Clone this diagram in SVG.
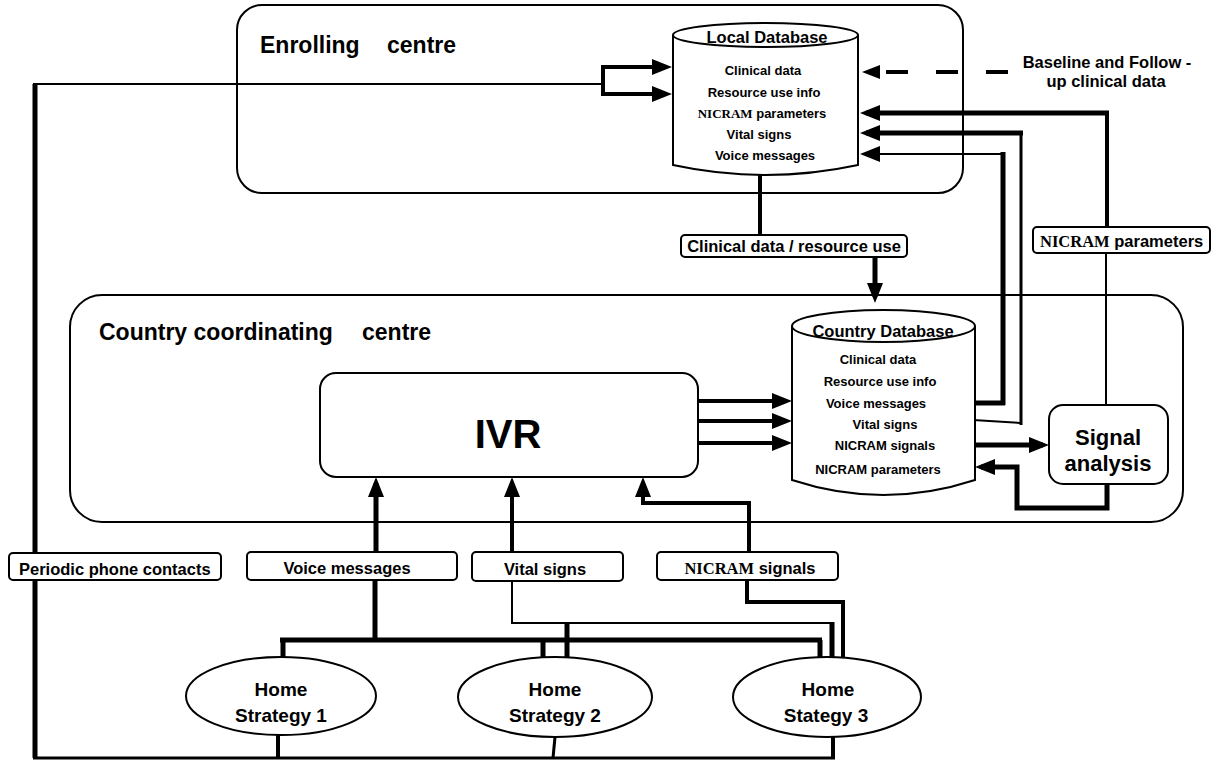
<svg xmlns="http://www.w3.org/2000/svg" width="1220" height="762" viewBox="0 0 1220 762">
<defs>
<style>
text{font-family:"Liberation Sans",Arial,sans-serif;font-weight:bold;fill:#000}
.s{font-family:"Liberation Serif","Times New Roman",serif}
.frame{fill:none;stroke:#000;stroke-width:2}
.node{fill:#fff;stroke:#000;stroke-width:2}
.c{fill:none;stroke:#000;stroke-linecap:butt;stroke-linejoin:miter}
.w2{stroke-width:2}.w3{stroke-width:3}.w4{stroke-width:4}.w5{stroke-width:5}
.a{marker-end:url(#ah)}
.t13{font-size:13px}.t16{font-size:16.5px}.t17{font-size:16.5px}.t19{font-size:19px}.t22{font-size:22px}.t23{font-size:23px}
.m{text-anchor:middle}
</style>
<marker id="ah" markerUnits="userSpaceOnUse" viewBox="0 0 20 16" markerWidth="20" markerHeight="16" refX="14" refY="8" orient="auto-start-reverse"><path d="M0,0 L20,8 L0,16 z" fill="#000"/></marker>
</defs>
<rect width="1220" height="762" fill="#fff"/>

<g id="enrolling-centre">
<rect class="frame" x="237" y="5" width="726" height="188" rx="25"/>
<text class="t23" x="260" y="53">Enrolling <tspan x="387">centre</tspan></text>
</g>

<g id="country-centre">
<rect class="frame" x="70" y="295" width="1113" height="227" rx="32"/>
<text class="t23" x="99" y="340">Country coordinating <tspan x="362">centre</tspan></text>
</g>

<g id="connectors">
<path class="c w2" d="M33,84 H604"/>
<path class="c w5" d="M35,84 V758"/>
<path class="c w3" d="M33,758 H835"/>
<path class="c w4" d="M666,67 H603 V94 H666" marker-start="url(#ah)" marker-end="url(#ah)"/>
<path class="c w4" d="M760,175 V235"/>
<path class="c w5 a" d="M875,257 V297"/>
<path class="c w4" d="M1008,72 H884" stroke-dasharray="22 28"/>
<polygon points="862,72 880,65 880,79" fill="#000"/>
<path class="c w5" d="M973,403 H1005"/>
<path class="c w5" d="M1003,405 V152"/>
<path class="c w2 a" d="M1005,154 H866"/>
<path class="c w2" d="M973,420 L1021,423"/>
<path class="c w3" d="M1021,425 V131"/>
<path class="c w5 a" d="M1023,133 H866"/>
<path class="c w2" d="M1106,405 V253"/>
<path class="c w4" d="M1107,227 V111"/>
<path class="c w5 a" d="M1109,113 H866"/>
<path class="c w5 a" d="M972,445 H1043"/>
<path class="c w5 a" d="M1107,484 V508 H1017 V467 H981"/>
<path class="c w4 a" d="M698,401 H786"/>
<path class="c w4 a" d="M698,421 H786"/>
<path class="c w4 a" d="M698,443 H786"/>
<path class="c w5 a" d="M376,552 V483"/>
<path class="c w4 a" d="M512,552 V483"/>
<path class="c w4 a" d="M749,552 V503 H643 V483"/>
<path class="c w5" d="M375,580 V640"/>
<path class="c w5" d="M280,640 H822"/>
<path class="c w5" d="M283,640 V658 M543,640 V658 M820,640 V658"/>
<path class="c w2" d="M512,581 V623 H834"/>
<path class="c w5" d="M832,622 V658 M567,622 V658"/>
<path class="c w4" d="M747,581 V602 H843 V658"/>
<path class="c w4" d="M278,734 V758 M833,737 V758"/>
<path class="c w3" d="M555,737 L553,758"/>
</g>

<g id="local-database">
<path class="node" d="M673,35 A92.5,12 0 0 1 858,35 V165 Q765.5,185 673,165 Z"/>
<path class="frame" d="M673,35 A92.5,12 0 0 0 858,35"/>
<text class="t16 m" x="767" y="43">Local Database</text>
<text class="t13 m" x="763" y="75">Clinical data</text>
<text class="t13 m" x="764" y="97">Resource use info</text>
<text class="t13 m" x="762" y="118"><tspan class="s">NICRAM</tspan> parameters</text>
<text class="t13 m" x="759" y="139">Vital signs</text>
<text class="t13 m" x="765" y="160">Voice messages</text>
</g>

<g id="country-database">
<path class="node" d="M792,326 A91.5,16 0 0 1 975,326 V480 Q883.5,510 792,480 Z"/>
<path class="frame" d="M792,326 A91.5,16 0 0 0 975,326"/>
<text class="t17 m" x="883" y="337">Country Database</text>
<text class="t13 m" x="878" y="364">Clinical data</text>
<text class="t13 m" x="880" y="386">Resource use info</text>
<text class="t13 m" x="876" y="408">Voice messages</text>
<text class="t13 m" x="885" y="429">Vital signs</text>
<text class="t13 m" x="885" y="450">NICRAM signals</text>
<text class="t13 m" x="878" y="474">NICRAM parameters</text>
</g>

<g id="ivr">
<rect class="node" x="320" y="373" width="378" height="104" rx="16"/>
<text class="m" style="font-size:40px" x="508" y="448">IVR</text>
</g>

<g id="signal-analysis">
<rect class="node" x="1049" y="405" width="119" height="79" rx="14"/>
<text class="t22 m" x="1108" y="445">Signal</text>
<text class="t22 m" x="1108" y="471">analysis</text>
</g>

<g id="baseline-note">
<text class="t16 m" x="1107" y="68">Baseline and Follow -</text>
<text class="t16 m" x="1106" y="87">up clinical data</text>
</g>

<g id="label-clinical">
<rect class="node" x="681" y="235" width="226" height="22" rx="4"/>
<text class="t16 m" x="794" y="252">Clinical data / resource use</text>
</g>

<g id="label-nicram-parameters">
<rect class="node" x="1033" y="227" width="177" height="26" rx="4"/>
<text class="t16" x="1040" y="247"><tspan class="s">NICRAM</tspan> parameters</text>
</g>

<g id="label-periodic">
<rect class="node" x="9" y="553" width="212" height="27" rx="4"/>
<text class="t16" x="19" y="575">Periodic phone contacts</text>
</g>

<g id="label-voice">
<rect class="node" x="247" y="552" width="210" height="28" rx="4"/>
<text class="t16 m" x="347" y="574">Voice messages</text>
</g>

<g id="label-vital">
<rect class="node" x="472" y="552" width="151" height="29" rx="4"/>
<text class="t16 m" x="545" y="575">Vital signs</text>
</g>

<g id="label-nicram-signals">
<rect class="node" x="657" y="552" width="181" height="28" rx="4"/>
<text class="t16 m" x="750" y="574"><tspan class="s">NICRAM</tspan> signals</text>
</g>

<g id="home-1">
<ellipse class="node" cx="281" cy="696" rx="95" ry="39"/>
<text class="t19 m" x="281" y="696">Home</text>
<text class="t19 m" x="281" y="722">Strategy 1</text>
</g>

<g id="home-2">
<ellipse class="node" cx="555" cy="697" rx="97" ry="40"/>
<text class="t19 m" x="555" y="696">Home</text>
<text class="t19 m" x="555" y="722">Strategy 2</text>
</g>

<g id="home-3">
<ellipse class="node" cx="827" cy="697" rx="94" ry="40"/>
<text class="t19 m" x="828" y="696">Home</text>
<text class="t19 m" x="826" y="722">Stategy 3</text>
</g>
</svg>
